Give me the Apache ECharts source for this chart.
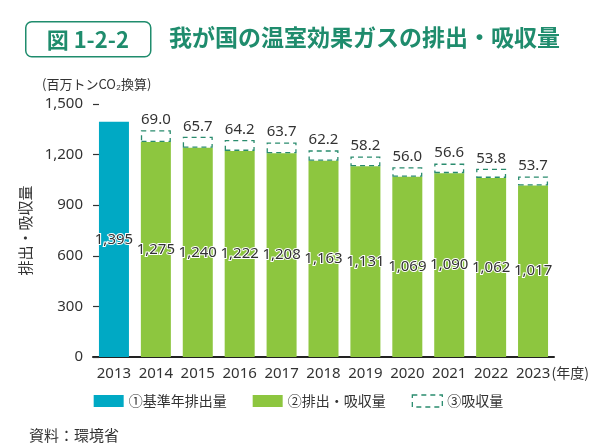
<!DOCTYPE html>
<html>
<head>
<meta charset="utf-8">
<script src="https://cdn.jsdelivr.net/npm/echarts@6/dist/echarts.min.js"></script>
<style>
  html, body { margin: 0; padding: 0; background: #fff; }
  #chart { width: 597px; height: 448px; }
</style>
</head>
<body>
<div id="chart"></div>
<script>
// Data
var years = ['2013', '2014', '2015', '2016', '2017', '2018', '2019', '2020', '2021', '2022', '2023'];
var baseEmission = [1395, '-', '-', '-', '-', '-', '-', '-', '-', '-', '-'];
var netEmission = ['-', 1275, 1240, 1222, 1208, 1163, 1131, 1069, 1090, 1062, 1017];
var absorption = ['-', 69.0, 65.7, 64.2, 63.7, 62.2, 58.2, 56.0, 56.6, 53.8, 53.7];
var yTicks = [0, 300, 600, 900, 1200, 1500];

var font = '"Noto Sans", "Noto Sans CJK JP", sans-serif';
var jpFont = '"Noto Sans CJK JP", sans-serif';
var titleColor = '#1f8c6d';
var dashColor = '#2a8c6e';

var fmtComma = function (v) {
    return String(v).replace(/\B(?=(\d{3})+(?!\d))/g, ',');
};

// Inside bar labels
var insideLabel = {
    show: true,
    position: 'inside',
    fontFamily: font,
    fontSize: 15,
    color: '#333',
    textBorderColor: '#fff',
    textBorderWidth: 2,
    formatter: function (p) { return fmtComma(p.value); }
};

var chart = echarts.init(document.getElementById('chart'));

chart.setOption({
    animation: false,
    textStyle: { fontFamily: font },
    title: [
        {
            text: '我が国の温室効果ガスの排出・吸収量',
            left: 164,
            top: 21,
            textStyle: { fontFamily: jpFont, fontSize: 23, fontWeight: 'bold', color: titleColor }
        },
        {
            text: '(百万トンCO₂換算)',
            left: 37,
            top: 73,
            textStyle: { fontFamily: jpFont, fontSize: 13, fontWeight: 'normal', color: '#333' }
        },
        {
            text: '資料：環境省',
            left: 24,
            top: 423,
            textStyle: { fontFamily: jpFont, fontSize: 15, fontWeight: 'normal', color: '#333' }
        }
    ],
    graphic: [
        {
            type: 'group',
            left: 25,
            top: 21,
            children: [
                {
                    type: 'rect',
                    shape: { x: 0, y: 0, width: 125, height: 35, r: 6 },
                    style: { fill: '#fff', stroke: titleColor, lineWidth: 1.5 }
                },
                {
                    type: 'text',
                    x: 62,
                    y: 18,
                    style: {
                        text: '図 1-2-2',
                        fill: titleColor,
                        font: 'bold 22px ' + jpFont,
                        align: 'center',
                        verticalAlign: 'middle'
                    }
                }
            ]
        }
    ],
    legend: {
        bottom: 35,
        left: 'center',
        itemWidth: 30,
        itemHeight: 12,
        itemGap: 26,
        icon: 'rect',
        textStyle: { fontFamily: jpFont, fontSize: 14, color: '#333' },
        data: [
            '①基準年排出量',
            '②排出・吸収量',
            {
                name: '③吸収量',
                itemStyle: {
                    color: '#fff',
                    borderColor: dashColor,
                    borderWidth: 1.3,
                    borderType: [5, 4]
                }
            }
        ]
    },
    grid: {
        left: 93,
        right: 43,
        top: 104,
        bottom: 91
    },
    xAxis: {
        type: 'category',
        data: years,
        name: '(年度)',
        nameLocation: 'end',
        nameGap: 35,
        nameMoveOverlap: false,
        nameTextStyle: {
            fontFamily: jpFont,
            fontSize: 14,
            color: '#333',
            align: 'right',
            verticalAlign: 'top',
            padding: [9, 0, 0, 0]
        },
        axisLine: { lineStyle: { color: '#222', width: 2 } },
        axisTick: { show: false },
        axisLabel: { fontSize: 15, color: '#333', margin: 9, interval: 0 }
    },
    yAxis: {
        type: 'value',
        min: yTicks[0],
        max: yTicks[yTicks.length - 1],
        interval: 300,
        name: '排出・吸収量',
        nameLocation: 'middle',
        nameRotate: 90,
        nameGap: 60,
        nameMoveOverlap: false,
        nameTextStyle: { fontFamily: jpFont, fontSize: 15, color: '#333' },
        axisLine: { show: false },
        axisTick: { show: true, inside: true, length: 6, lineStyle: { color: '#333', width: 1.2 } },
        splitLine: { show: false },
        axisLabel: {
            fontSize: 15,
            color: '#333',
            margin: 10,
            formatter: function (v) { return fmtComma(v); }
        }
    },
    series: [
        {
            name: '①基準年排出量',
            type: 'bar',
            stack: 'total',
            barWidth: 30,
            data: baseEmission,
            itemStyle: { color: '#00a9c4' },
            label: insideLabel
        },
        {
            name: '②排出・吸収量',
            type: 'bar',
            stack: 'total',
            barWidth: 30,
            data: netEmission,
            itemStyle: { color: '#8dc63f' },
            label: insideLabel
        },
        {
            name: '③吸収量',
            type: 'bar',
            stack: 'total',
            barWidth: 30,
            data: absorption,
            itemStyle: {
                color: 'rgba(255,255,255,0)',
                borderColor: dashColor,
                borderWidth: 1.3,
                borderType: [5, 4]
            },
            label: {
                show: true,
                position: 'top',
                distance: 3,
                fontFamily: font,
                fontSize: 15,
                color: '#333',
                formatter: function (p) { return p.value.toFixed(1); }
            }
        }
    ]
});

window.addEventListener('resize', function () {
    chart.resize();
});
</script>
</body>
</html>
